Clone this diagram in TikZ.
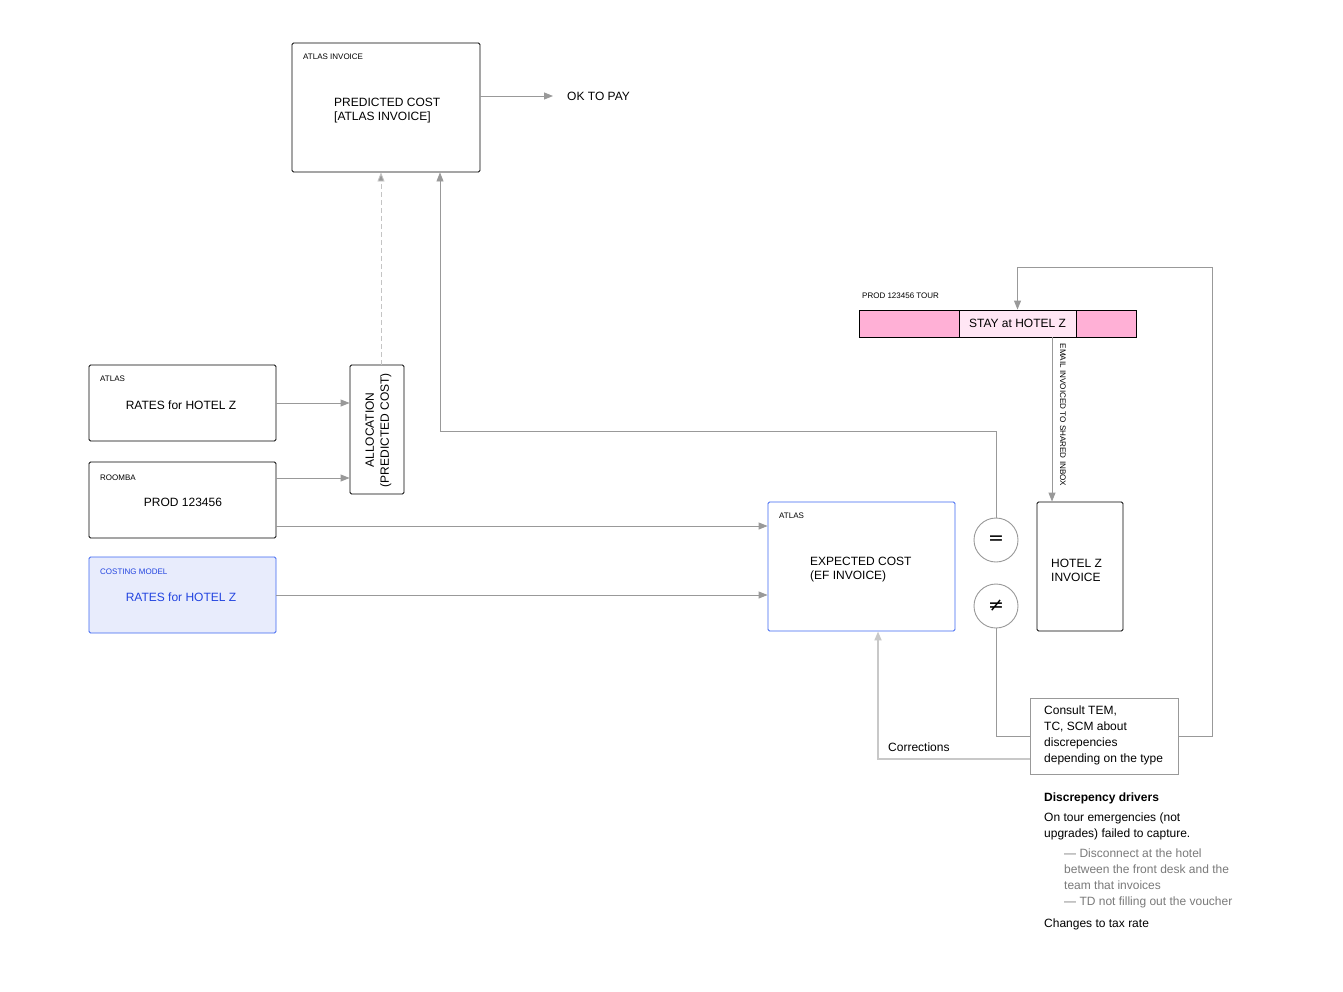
\documentclass[tikz,border=0pt]{standalone}
\usepackage{fontspec}
\setmainfont{Liberation Sans}
\newfontfamily\symfont{DejaVu Sans}
\usetikzlibrary{arrows.meta,calc}
\definecolor{connc}{HTML}{999999}
\definecolor{dashc}{HTML}{C4C4C4}
\definecolor{corrc}{HTML}{C8C8C8}
\definecolor{costblue}{HTML}{3D66F2}
\definecolor{costtext}{HTML}{2244E0}
\definecolor{costfill}{HTML}{E8ECFC}
\definecolor{pinkdark}{HTML}{FFB0D6}
\definecolor{pinklight}{HTML}{FFE6F4}
\definecolor{graytext}{HTML}{7A7A7A}
\begin{document}
\begin{tikzpicture}[x=1pt,y=-1pt,
  box/.style={draw=black, line width=0.9pt, rounded corners=1.5pt, inner sep=0pt, fill=white},
  conn/.style={draw=connc, line width=0.9pt, -{Triangle[length=9pt,width=7pt]}},
  plainline/.style={draw=connc, line width=0.9pt},
  maintxt/.style={font=\fontsize{12}{16}\selectfont, inner sep=0pt},
  boxtxt/.style={font=\fontsize{12}{14}\selectfont, inner sep=0pt, align=left, anchor=west},
  smalltxt/.style={font=\fontsize{8}{9}\selectfont, inner sep=0pt, anchor=west},
  circ/.style={circle, draw=connc, line width=0.9pt, minimum size=44pt, inner sep=0pt},
  symtxt/.style={inner sep=0pt, font={\fontsize{19}{19}\symfont\selectfont}},
  bar/.style={draw=black, line width=0.9pt, minimum height=27pt, inner sep=0pt}
]
\useasboundingbox (0,0) rectangle (1343,991);
\fill[white] (0,0) rectangle (1343,991);

% ATLAS invoice
\node[box, minimum width=188pt, minimum height=129pt] (inv) at (386,107.5) {};
\node[smalltxt] (invlbl) at (303,57) {ATLAS INVOICE};
\node[boxtxt] (invtxt) at (334,111) {PREDICTED COST\\{[ATLAS INVOICE]}};
\node[maintxt, anchor=west] (ok) at (567,96) {OK TO PAY};
\draw[conn] (inv.east |- ok.west) -- ([xshift=-14pt]ok.west);

% left boxes
\node[box, minimum width=187pt, minimum height=76pt] (rates1) at (182.5,403) {};
\node[smalltxt] (rates1lbl) at (100,379) {ATLAS};
\node[maintxt] (rates1txt) at (181,405) {RATES for HOTEL Z};

\node[box, minimum width=187pt, minimum height=76pt] (roomba) at (182.5,500) {};
\node[smalltxt] (roombalbl) at (100,478) {ROOMBA};
\node[maintxt] (roombatxt) at (183,502) {PROD 123456};

\node[box, draw=costblue, fill=costfill, minimum width=187pt, minimum height=76pt] (cost) at (182.5,595) {};
\node[smalltxt, text=costtext] (costlbl) at (100,572) {COSTING MODEL};
\node[maintxt, text=costtext] (costtxt) at (181,597) {RATES for HOTEL Z};

% allocation
\node[box, minimum width=54pt, minimum height=129pt] (alloc) at (377,429.5) {};
\node[font=\fontsize{12}{15}\selectfont, inner sep=0pt, rotate=90, align=center] (alloctxt) at (378.5,430) {ALLOCATION\\(PREDICTED COST)};

% expected cost
\node[box, draw=costblue, minimum width=187pt, minimum height=129pt] (exp) at (861.5,566.5) {};
\node[smalltxt] (explbl) at (779,516) {ATLAS};
\node[boxtxt] (exptxt) at (810,570) {EXPECTED COST\\(EF INVOICE)};

% circles
\node[circ] (eq) at (996,540) {};
\node[symtxt] (eqsym) at (eq) {=};
\node[circ] (ne) at (996,606) {};
\node[symtxt] (nesym) at (ne) {≠};

% hotel invoice
\node[box, minimum width=86pt, minimum height=129pt] (hz) at (1080,566.5) {};
\node[boxtxt] (hztxt) at (1051,570) {HOTEL Z\\INVOICE};

% pink bar
\node[smalltxt] (tourlbl) at (862,296) {PROD 123456 TOUR};
\node[bar, fill=pinkdark, minimum width=100pt] (pinkl) at (909,323.5) {};
\node[bar, fill=pinklight, minimum width=117pt, maintxt] (mid) at (1017.5,323.5) {STAY at HOTEL Z};
\node[bar, fill=pinkdark, minimum width=60pt] (pinkr) at (1106,323.5) {};

% consult box
\node[box, draw=connc, rounded corners=0pt, minimum width=148pt, minimum height=76pt] (cons) at (1104,736) {};
\node[maintxt, align=left, anchor=west] (constxt) at (1044,735) {Consult TEM,\\TC, SCM about\\discrepencies\\depending on the type};

% connectors
\draw[conn] (rates1.east) -- (alloc.west |- rates1.east);
\draw[conn] (roomba.east |- 0,478) -- (alloc.west |- 0,478);
\draw[conn] (roomba.east |- 0,526) -- (exp.west |- 0,526);
\draw[conn] (cost.east) -- (exp.west |- cost.east);
\draw[draw=dashc, line width=0.9pt, dash pattern=on 5pt off 3pt, -{Triangle[length=9pt,width=7pt,fill=connc]}] (alloc.north -| 381,0) -- (inv.south -| 381,0);
\draw[conn] (eq.north) -- (eq.north |- 0,431) -| (inv.south -| 440,0);
\draw[conn] (cons.east) -- ++(34,0) |- ([yshift=42pt]mid.north) -- (mid.north);
\draw[conn] (mid.south -| 1052,0) -- (hz.north -| 1052,0);
\node[font=\fontsize{8.1}{9}\selectfont, inner sep=0pt, rotate=-90] (emaillbl) at (1063,415) {EMAIL INVOICED TO SHARED INBOX};
\draw[plainline] (ne.south) |- (cons.west);
\draw[draw=corrc, line width=1.8pt, -{Triangle[length=9pt,width=7pt]}] (cons.west |- 0,759) -| (exp.south -| 878,0);
\node[maintxt, anchor=west] (corrlbl) at (888,747) {Corrections};

% discrepancy drivers
\node[maintxt, anchor=west, font=\fontsize{12}{16}\selectfont\bfseries] (dtitle) at (1044,798) {Discrepency drivers};
\node[maintxt, anchor=west, align=left] (d1) at (1044,826) {On tour emergencies (not\\upgrades) failed to capture.};
\node[maintxt, anchor=west, align=left, text=graytext] (d2) at (1064,878) {— Disconnect at the hotel\\between the front desk and the\\team that invoices\\— TD not filling out the voucher};
\node[maintxt, anchor=west] (d3) at (1044,924) {Changes to tax rate};
\end{tikzpicture}
\end{document}
